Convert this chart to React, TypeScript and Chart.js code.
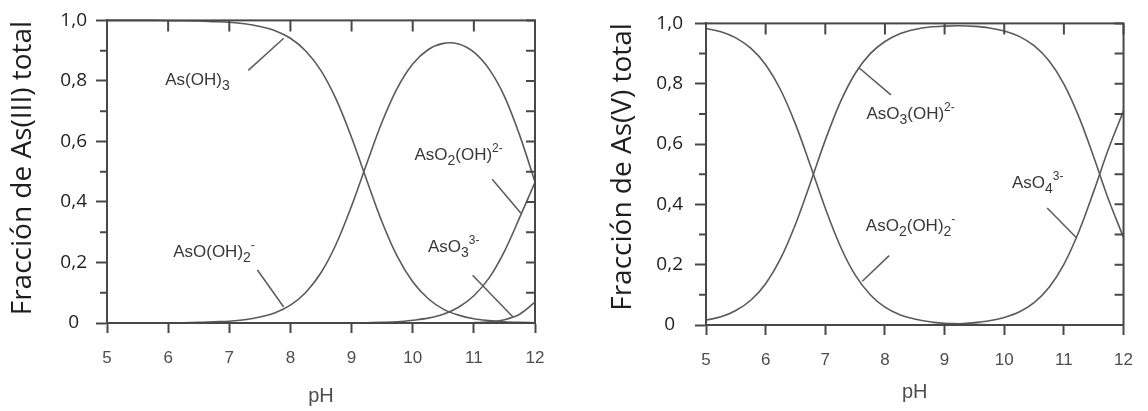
import React, { useEffect, useRef } from 'react';
import { Chart, registerables } from 'chart.js';

Chart.register(...registerables);

// ---------- data ----------
const PH = [5, 5.25, 5.5, 5.75, 6, 6.25, 6.5, 6.75, 7, 7.25, 7.5, 7.75, 8, 8.25, 8.5, 8.75, 9, 9.25, 9.5, 9.75, 10, 10.25, 10.5, 10.75, 11, 11.25, 11.5, 11.75, 12];

// As(III) species fractions
const AS_OH3 = [1.0, 1.0, 1.0, 1.0, 0.999, 0.999, 0.998, 0.996, 0.994, 0.989, 0.98, 0.966, 0.941, 0.899, 0.834, 0.738, 0.613, 0.471, 0.333, 0.219, 0.136, 0.081, 0.046, 0.026, 0.014, 0.008, 0.004, 0.002, 0.001];
const ASO_OH2 = [0, 0, 0, 0, 0.001, 0.001, 0.002, 0.004, 0.006, 0.011, 0.02, 0.034, 0.059, 0.101, 0.166, 0.262, 0.387, 0.528, 0.665, 0.777, 0.856, 0.903, 0.924, 0.922, 0.895, 0.839, 0.749, 0.62, 0.466];
const ASO2_OH = [0, 0, 0, 0, 0, 0, 0, 0, 0, 0, 0, 0, 0, 0, 0, 0, 0, 0.001, 0.002, 0.004, 0.009, 0.016, 0.029, 0.052, 0.09, 0.149, 0.237, 0.349, 0.465];
const ASO3 = [0, 0, 0, 0, 0, 0, 0, 0, 0, 0, 0, 0, 0, 0, 0, 0, 0, 0, 0, 0, 0, 0, 0, 0, 0.001, 0.004, 0.011, 0.029, 0.069];

// As(V) species fractions
const ASO2_OH2 = [0.983, 0.972, 0.952, 0.918, 0.863, 0.78, 0.666, 0.529, 0.387, 0.262, 0.166, 0.101, 0.059, 0.034, 0.02, 0.011, 0.006, 0.004, 0.002, 0.001, 0.001, 0, 0, 0, 0, 0, 0, 0, 0];
const ASO3_OH = [0.016, 0.027, 0.048, 0.082, 0.137, 0.22, 0.334, 0.471, 0.613, 0.738, 0.834, 0.899, 0.94, 0.966, 0.98, 0.988, 0.991, 0.992, 0.99, 0.985, 0.975, 0.957, 0.926, 0.876, 0.799, 0.691, 0.557, 0.415, 0.29];
const ASO4 = [0, 0, 0, 0, 0, 0, 0, 0, 0, 0, 0, 0, 0, 0, 0, 0.001, 0.003, 0.004, 0.008, 0.014, 0.025, 0.043, 0.074, 0.124, 0.201, 0.309, 0.443, 0.585, 0.71];

const Y_TICK_LABELS = ['0', '', '0,2', '', '0,4', '', '0,6', '', '0,8', '', '1,0'];
const X_TITLE = 'pH';
const Y_TITLE_III = ' Fracción de As(III) total';
const Y_TITLE_V = '  Fracción de As(V) total';

type Seg = [string, string];
type Lbl = { segs: Seg[]; at: [number, number]; leader: [number, number, number, number] };

const LABELS_III: Lbl[] = [
  { segs: [['As(OH)', ''], ['3', 'sub']], at: [6.48, 0.805], leader: [7.31, 0.835, 7.89, 0.941] },
  { segs: [['AsO(OH)', ''], ['2', 'sub'], ['-', 'sup']], at: [6.75, 0.238], leader: [7.46, 0.175, 7.89, 0.053] },
  { segs: [['AsO', ''], ['2', 'sub'], ['(OH)', ''], ['2-', 'sup']], at: [10.75, 0.558], leader: [11.3, 0.475, 11.77, 0.363] },
  { segs: [['AsO', ''], ['3', 'sub'], ['3-', 'sup']], at: [10.67, 0.254], leader: [10.98, 0.158, 11.64, 0.02] },
];

const LABELS_V: Lbl[] = [
  { segs: [['AsO', ''], ['3', 'sub'], ['(OH)', ''], ['2-', 'sup']], at: [8.43, 0.704], leader: [8.1, 0.763, 7.57, 0.852] },
  { segs: [['AsO', ''], ['2', 'sub'], ['(OH)', ''], ['2', 'sub'], ['-', 'sup']], at: [8.43, 0.332], leader: [8.07, 0.23, 7.62, 0.145] },
  { segs: [['AsO', ''], ['4', 'sub'], ['3-', 'sup']], at: [10.56, 0.474], leader: [10.72, 0.388, 11.21, 0.289] },
];

// ---------- styling ----------
const FRAME = '#484848';
const CURVE = '#5a5a5a';
const LABEL_COLOR = '#383838';
const HELV = '"Liberation Sans", Arial, sans-serif';
const CAL = '"Open Sans", sans-serif';

function segFont(k: string) {
  if (k === 'sub') return `14px ${HELV}`;
  if (k === 'sup') return `12px ${HELV}`;
  return `17px ${HELV}`;
}

const decorPlugin = {
  id: 'decor',
  afterDatasetsDraw(chart: any, _args: any, opts: any) {
    const { ctx, chartArea: a, scales } = chart;
    const xs = scales.x;
    const ys = scales.y;
    ctx.save();
    ctx.strokeStyle = FRAME;
    ctx.lineWidth = 2;
    ctx.strokeRect(a.left, a.top, a.right - a.left, a.bottom - a.top);
    ctx.beginPath();
    xs.ticks.forEach((t: any) => {
      const px = xs.getPixelForValue(t.value);
      ctx.moveTo(px, a.top);
      ctx.lineTo(px, a.top + 11);
    });
    ys.ticks.forEach((t: any) => {
      const py = ys.getPixelForValue(t.value);
      ctx.moveTo(a.right, py);
      ctx.lineTo(a.right - 9, py);
      const idx = Math.round(t.value * 10);
      if (idx % 2 === 1) {
        ctx.moveTo(a.left, py);
        ctx.lineTo(a.left - 7, py);
      }
    });
    ctx.stroke();
    const labels: Lbl[] = opts.labels || [];
    ctx.strokeStyle = CURVE;
    ctx.lineWidth = 1.5;
    ctx.fillStyle = LABEL_COLOR;
    ctx.textBaseline = 'alphabetic';
    ctx.textAlign = 'left';
    labels.forEach((l) => {
      ctx.beginPath();
      ctx.moveTo(xs.getPixelForValue(l.leader[0]), ys.getPixelForValue(l.leader[1]));
      ctx.lineTo(xs.getPixelForValue(l.leader[2]), ys.getPixelForValue(l.leader[3]));
      ctx.stroke();
      let w = 0;
      l.segs.forEach(([t, k]) => {
        ctx.font = segFont(k);
        w += ctx.measureText(t).width;
      });
      let x = xs.getPixelForValue(l.at[0]) - w / 2;
      const base = ys.getPixelForValue(l.at[1]) + 6;
      l.segs.forEach(([t, k]) => {
        ctx.font = segFont(k);
        const dy = k === 'sub' ? 5 : k === 'sup' ? -8 : 0;
        ctx.fillText(t, x, base + dy);
        x += ctx.measureText(t).width;
      });
    });
    ctx.restore();
  },
};

type PanelProps = {
  series: number[][];
  yTitle: string;
  labels: Lbl[];
  padTop: number;
  padRight: number;
  yWidth: number;
  xHeight: number;
  yTitlePad: number;
  yTickPad: number;
  xTitlePadBottom: number;
  left: number;
};

function Panel(p: PanelProps) {
  const ref = useRef<HTMLCanvasElement>(null);
  useEffect(() => {
    if (!ref.current) return;
    const chart = new Chart(ref.current, {
      type: 'line',
      data: {
        datasets: p.series.map((s) => ({
          data: PH.map((x, i) => ({ x, y: s[i] })),
          borderColor: CURVE,
          borderWidth: 1.6,
          pointRadius: 0,
          fill: false,
          tension: 0.35,
          clip: false as any,
        })),
      },
      options: {
        responsive: false,
        animation: false,
        events: [],
        layout: { padding: { top: p.padTop, right: p.padRight, bottom: 0, left: 0 } },
        plugins: {
          legend: { display: false },
          tooltip: { enabled: false },
          decor: { labels: p.labels },
        } as any,
        scales: {
          x: {
            type: 'linear',
            min: 5,
            max: 12,
            afterFit: (s: any) => { s.height = p.xHeight; },
            ticks: {
              stepSize: 1,
              padding: 15,
              color: '#4d4d4d',
              font: { family: HELV, size: 17 },
            },
            grid: { drawOnChartArea: false, drawTicks: true, tickLength: 10, tickColor: FRAME, tickWidth: 2 },
            border: { display: true, color: FRAME, width: 2 },
            title: {
              display: true,
              text: X_TITLE,
              color: '#4d4d4d',
              font: { family: HELV, size: 20 },
              padding: { top: 0, bottom: p.xTitlePadBottom },
            },
          },
          y: {
            type: 'linear',
            min: 0,
            max: 1,
            afterFit: (s: any) => { s.width = p.yWidth; },
            ticks: {
              stepSize: 0.1,
              padding: p.yTickPad,
              crossAlign: 'center',
              color: '#1e1e1e',
              font: { family: CAL, size: 19 },
              callback: (v: any) => Y_TICK_LABELS[Math.round(Number(v) * 10)] ?? '',
            },
            grid: {
              drawOnChartArea: false,
              drawTicks: true,
              tickLength: 11,
              tickWidth: 2,
              tickColor: (c: any) => (Math.round(c.tick.value * 10) % 2 === 0 ? FRAME : 'rgba(0,0,0,0)'),
            },
            border: { display: true, color: FRAME, width: 2 },
            title: {
              display: true,
              text: p.yTitle,
              color: '#1e1e1e',
              font: { family: CAL, size: 28 },
              padding: { top: p.yTitlePad, bottom: 0 },
            },
          },
        },
      } as any,
      plugins: [decorPlugin],
    });
    return () => chart.destroy();
  }, []);
  return (
    <canvas
      ref={ref}
      width={574}
      height={411}
      style={{ position: 'absolute', left: p.left, top: 0, width: 574, height: 411, display: 'block' }}
    />
  );
}

export default function App() {
  return (
    <div style={{ position: 'absolute', left: 0, top: 0, width: 1148, height: 411, background: '#fff', overflow: 'hidden' }}>
      <Panel
        series={[AS_OH3, ASO_OH2, ASO2_OH, ASO3]}
        yTitle={Y_TITLE_III}
        labels={LABELS_III}
        padTop={20}
        padRight={39}
        yWidth={107}
        xHeight={88}
        yTitlePad={6}
        yTickPad={9}
        xTitlePadBottom={3}
        left={0}
      />
      <Panel
        series={[ASO2_OH2, ASO3_OH, ASO4]}
        yTitle={Y_TITLE_V}
        labels={LABELS_V}
        padTop={21}
        padRight={15}
        yWidth={132}
        xHeight={86}
        yTitlePad={32}
        yTickPad={12}
        xTitlePadBottom={7}
        left={574}
      />
    </div>
  );
}
